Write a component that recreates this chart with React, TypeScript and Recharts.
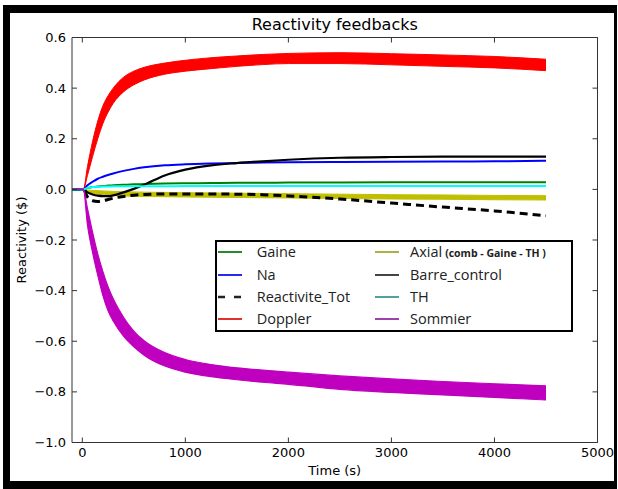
import React from 'react';
import { ComposedChart, Line, Area, XAxis, YAxis, Legend } from 'recharts';

const FONT = '"DejaVu Sans", sans-serif';

const TIME = [-100, 10, 50, 100, 150, 200, 250, 300, 400, 500, 600, 800, 1000, 1250, 1500, 1750, 2000, 2500, 3000, 3500, 4000, 4500];
const GAINE = [0, 0, 0.005, 0.009, 0.011, 0.013, 0.015, 0.016, 0.018, 0.020, 0.021, 0.023, 0.024, 0.025, 0.026, 0.026, 0.027, 0.027, 0.028, 0.028, 0.028, 0.028];
const NA = [0, 0, 0.016, 0.030, 0.042, 0.050, 0.057, 0.063, 0.073, 0.081, 0.087, 0.095, 0.099, 0.102, 0.104, 0.106, 0.107, 0.108, 0.109, 0.110, 0.111, 0.113];
const REACTIVITE_TOT = [0, 0, -0.030, -0.045, -0.048, -0.045, -0.040, -0.035, -0.028, -0.023, -0.020, -0.018, -0.018, -0.018, -0.019, -0.021, -0.026, -0.038, -0.054, -0.070, -0.085, -0.104];
const DOPPLER_HI = [0, 0, 0.09, 0.19, 0.27, 0.33, 0.37, 0.40, 0.443, 0.467, 0.482, 0.499, 0.510, 0.520, 0.527, 0.533, 0.537, 0.540, 0.536, 0.531, 0.525, 0.514];
const DOPPLER_LO = [0, 0, 0.055, 0.13, 0.20, 0.26, 0.305, 0.34, 0.385, 0.413, 0.432, 0.455, 0.467, 0.477, 0.486, 0.493, 0.497, 0.497, 0.492, 0.486, 0.480, 0.469];
const AXIAL_HI = [0, 0, -0.003, -0.004, -0.005, -0.006, -0.007, -0.008, -0.009, -0.010, -0.011, -0.012, -0.013, -0.014, -0.015, -0.016, -0.017, -0.019, -0.021, -0.022, -0.024, -0.025];
const AXIAL_LO = [0, 0, -0.010, -0.015, -0.018, -0.021, -0.023, -0.024, -0.026, -0.027, -0.028, -0.029, -0.030, -0.031, -0.032, -0.033, -0.034, -0.036, -0.038, -0.039, -0.041, -0.042];
const BARRE_CONTROL = [0, 0, -0.012, -0.020, -0.025, -0.027, -0.027, -0.024, -0.012, 0.002, 0.018, 0.055, 0.078, 0.095, 0.104, 0.111, 0.117, 0.125, 0.128, 0.129, 0.129, 0.129];
const TH = [0, 0, 0.006, 0.009, 0.010, 0.011, 0.011, 0.012, 0.012, 0.012, 0.012, 0.012, 0.013, 0.013, 0.013, 0.013, 0.013, 0.013, 0.013, 0.013, 0.013, 0.013];
const SOMMIER_HI = [0, 0, -0.075, -0.17, -0.255, -0.325, -0.385, -0.432, -0.505, -0.56, -0.598, -0.645, -0.672, -0.692, -0.705, -0.714, -0.722, -0.737, -0.749, -0.759, -0.768, -0.776];
const SOMMIER_LO = [0, 0, -0.14, -0.25, -0.34, -0.42, -0.48, -0.52, -0.58, -0.622, -0.655, -0.698, -0.722, -0.740, -0.752, -0.762, -0.770, -0.790, -0.802, -0.812, -0.822, -0.832];

const X_TICKS = [0, 1000, 2000, 3000, 4000, 5000];
const Y_TICKS = [-1.0, -0.8, -0.6, -0.4, -0.2, 0.0, 0.2, 0.4, 0.6];

const LEGEND_COL1 = [
  { name: 'Gaine', color: '#2a8a2a', dash: '' },
  { name: 'Na', color: '#2a2aee', dash: '' },
  { name: 'Reactivite_Tot', color: '#222', dash: '7 9' },
  { name: 'Doppler', color: '#e03030', dash: '' },
];
const LEGEND_COL2 = [
  { name: 'Axial', extra: '(comb - Gaine - TH )', color: '#b0b040', dash: '' },
  { name: 'Barre_control', color: '#444', dash: '' },
  { name: 'TH', color: '#50a0a0', dash: '' },
  { name: 'Sommier', color: '#a040b0', dash: '' },
];

const fmtY = (v: number) => (v < 0 ? '\u2212' : '') + Math.abs(v).toFixed(1);

function LegendBox() {
  const rows = [10.3, 32.5, 54.8, 77];
  const item = (e: any, i: number, lx: number, tx: number) => (
    <div key={e.name} style={{ position: 'absolute', left: 0, top: rows[i] - 10, height: 20, width: '100%' }}>
      <svg width={26} height={20} style={{ position: 'absolute', left: lx, top: 0 }}>
        <line x1={0} y1={10} x2={24} y2={10} stroke={e.color} strokeWidth={e.dash ? 2.5 : 2} strokeDasharray={e.dash || undefined} />
      </svg>
      <span style={{ position: 'absolute', left: tx, top: 0, lineHeight: '20px', whiteSpace: 'nowrap' }}>
        {e.name}
        {e.extra ? <span style={{ fontSize: 10.5, fontWeight: 'bold', marginLeft: 3 }}>{e.extra}</span> : null}
      </span>
    </div>
  );
  return (
    <div style={{ boxSizing: 'border-box', width: 358, height: 92, border: '2px solid #000', background: '#fff', position: 'relative', fontFamily: '"Open Sans", sans-serif', fontSize: 14.5, color: '#222' }}>
      {LEGEND_COL1.map((e, i) => item(e, i, 1, 39.7))}
      {LEGEND_COL2.map((e, i) => item(e, i, 158, 193))}
    </div>
  );
}

export default function App() {
  const data = TIME.map((t, i) => ({
    t,
    gaine: GAINE[i],
    na: NA[i],
    tot: REACTIVITE_TOT[i],
    doppler: [DOPPLER_LO[i], DOPPLER_HI[i]],
    axial: [AXIAL_LO[i], AXIAL_HI[i]],
    barre: BARRE_CONTROL[i],
    th: TH[i],
    sommier: [SOMMIER_LO[i], SOMMIER_HI[i]],
  }));
  const tickStyle = { fill: '#000', fontSize: 13, fontFamily: FONT };
  const lineStyle = { stroke: '#333', strokeWidth: 1 };
  return (
    <div style={{ position: 'absolute', left: 0, top: 0, width: 618, height: 489, background: '#fff' }}>
      <ComposedChart width={618} height={489} data={data} margin={{ top: 7.5, right: 0.5, bottom: 14, left: 0 }} style={{ position: 'absolute', left: 0, top: 0 }}>
        <XAxis xAxisId="b" dataKey="t" type="number" domain={[-100, 5000]} ticks={X_TICKS} allowDataOverflow orientation="bottom" height={32.5}
          tickSize={-5} tickMargin={10.3} tick={tickStyle} axisLine={lineStyle} tickLine={lineStyle} interval={0}
          label={{ value: 'Time (s)', position: 'insideBottom', offset: 0, fill: '#000', fontSize: 13, fontFamily: FONT }} />
        <XAxis xAxisId="top" dataKey="t" type="number" domain={[-100, 5000]} ticks={X_TICKS} allowDataOverflow orientation="top" height={30}
          tickSize={-5} tickFormatter={() => ''} axisLine={lineStyle} tickLine={lineStyle} interval={0}
          label={{ value: 'Reactivity feedbacks', position: 'insideBottom', offset: 7.5, fill: '#000', fontSize: 16, fontFamily: FONT }} />
        <YAxis yAxisId="l" type="number" domain={[-1, 0.6]} ticks={Y_TICKS} allowDataOverflow width={72}
          tickSize={-5} tickMargin={11} tick={tickStyle} tickFormatter={fmtY} axisLine={lineStyle} tickLine={lineStyle} interval={0}
          label={{ value: 'Reactivity ($)', angle: -90, position: 'insideLeft', offset: 21.5, fill: '#000', fontSize: 13, fontFamily: FONT, style: { textAnchor: 'middle' } }} />
        <YAxis yAxisId="r" orientation="right" type="number" domain={[-1, 0.6]} ticks={Y_TICKS} allowDataOverflow width={20}
          tickSize={-5} tickFormatter={() => ''} axisLine={lineStyle} tickLine={lineStyle} interval={0} />
        <Legend layout="horizontal" verticalAlign="middle" align="center" wrapperStyle={{ left: 215, top: 240, width: 358, height: 92 }} content={() => <LegendBox />} />

        <Line xAxisId="b" yAxisId="l" type="monotone" dataKey="gaine" stroke="#008000" strokeWidth={2} dot={false} isAnimationActive={false} />
        <Line xAxisId="b" yAxisId="l" type="monotone" dataKey="na" stroke="#0000ff" strokeWidth={2} dot={false} isAnimationActive={false} />
        <Line xAxisId="b" yAxisId="l" type="monotone" dataKey="tot" stroke="#000" strokeWidth={3} strokeDasharray="8 5" dot={false} isAnimationActive={false} />
        <Area xAxisId="b" yAxisId="l" type="monotone" dataKey="doppler" stroke="#ff0000" strokeWidth={1} fill="#ff0000" fillOpacity={1} dot={false} isAnimationActive={false} />
        <Area xAxisId="b" yAxisId="l" type="monotone" dataKey="axial" stroke="#bfbf00" strokeWidth={1} fill="#bfbf00" fillOpacity={1} dot={false} isAnimationActive={false} />
        <Line xAxisId="b" yAxisId="l" type="monotone" dataKey="barre" stroke="#000" strokeWidth={2.2} dot={false} isAnimationActive={false} />
        <Line xAxisId="b" yAxisId="l" type="monotone" dataKey="th" stroke="#00ffff" strokeWidth={2} dot={false} isAnimationActive={false} />
        <Area xAxisId="b" yAxisId="l" type="monotone" dataKey="sommier" stroke="#bf00bf" strokeWidth={1.2} fill="#bf00bf" fillOpacity={1} dot={false} isAnimationActive={false} zIndex={450} />
      </ComposedChart>
      <div style={{ position: 'absolute', left: 3, top: 5, width: 614, height: 484, boxSizing: 'border-box', borderLeft: '7px solid #000', borderTop: '8px solid #000', borderRight: '3px solid #000', borderBottom: '8px solid #000', pointerEvents: 'none' }} />
    </div>
  );
}
